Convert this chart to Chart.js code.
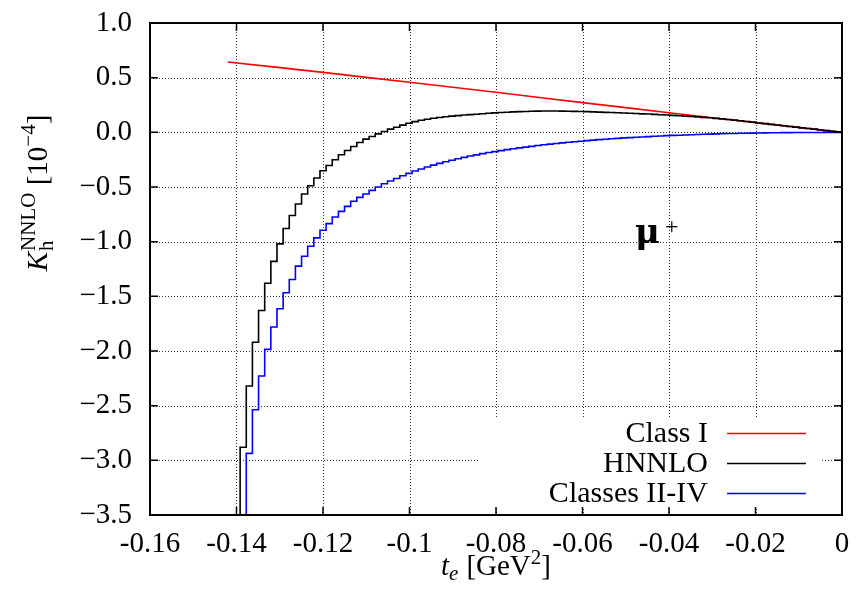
<!DOCTYPE html>
<html>
<head>
<meta charset="utf-8">
<script src="https://cdn.jsdelivr.net/npm/chart.js@4.4.1/dist/chart.umd.min.js"></script>
<style>
  html, body { margin: 0; padding: 0; background: #fff; }
</style>
</head>
<body>
<canvas id="chart" width="856" height="604"></canvas>
<script>
// histogram bins: 100 bins of width 0.00142 starting at t = -0.142
const binStart = -0.142;
const binWidth = 0.00142;

// HNNLO (black), one value per bin
const hnnlo = [
  -5.0, -4.0, -2.88, -2.32, -1.92, -1.63, -1.38, -1.18, -1.02, -0.88,
  -0.76, -0.655, -0.564, -0.488, -0.418, -0.351, -0.303, -0.251, -0.205, -0.166,
  -0.130, -0.093, -0.062, -0.038, -0.014, 0.007, 0.029, 0.047, 0.066, 0.083,
  0.098, 0.110, 0.120, 0.129, 0.136, 0.142, 0.148, 0.153, 0.158, 0.162,
  0.166, 0.170, 0.174, 0.178, 0.181, 0.184, 0.187, 0.189, 0.191, 0.193,
  0.194, 0.195, 0.195, 0.195, 0.194, 0.193, 0.192, 0.191, 0.189, 0.187,
  0.185, 0.183, 0.181, 0.179, 0.177, 0.174, 0.172, 0.169, 0.167, 0.164,
  0.161, 0.158, 0.155, 0.152, 0.148, 0.145, 0.141, 0.137, 0.133, 0.128,
  0.123, 0.118, 0.112, 0.106, 0.099, 0.093, 0.086, 0.080, 0.073, 0.067,
  0.060, 0.054, 0.048, 0.041, 0.035, 0.029, 0.022, 0.016, 0.010, 0.003
];

// Classes II-IV (blue), one value per bin
const classes2to4 = [
  -5.0, -4.5, -4.0, -2.936, -2.538, -2.228, -1.985, -1.781, -1.613, -1.467,
  -1.346, -1.224, -1.133, -1.042, -0.965, -0.896, -0.835, -0.774, -0.723, -0.677,
  -0.631, -0.595, -0.564, -0.531, -0.500, -0.470, -0.445, -0.422, -0.397, -0.375,
  -0.354, -0.335, -0.317, -0.300, -0.284, -0.269, -0.255, -0.242, -0.229, -0.217,
  -0.206, -0.195, -0.185, -0.176, -0.167, -0.158, -0.150, -0.142, -0.135, -0.128,
  -0.121, -0.114, -0.108, -0.102, -0.096, -0.091, -0.086, -0.081, -0.076, -0.071,
  -0.067, -0.063, -0.059, -0.055, -0.051, -0.048, -0.045, -0.042, -0.039, -0.036,
  -0.033, -0.030, -0.028, -0.026, -0.024, -0.022, -0.020, -0.018, -0.016, -0.014,
  -0.012, -0.011, -0.010, -0.009, -0.008, -0.007, -0.006, -0.005, -0.004, -0.004,
  -0.003, -0.003, -0.002, -0.002, -0.001, -0.001, -0.001, 0, 0, 0
];

// Class I (red)
const classIT = [-0.142, -0.13, -0.12, -0.11, -0.10, -0.09, -0.08, -0.07, -0.06, -0.05, -0.04, -0.03, -0.02, -0.01, 0];
const classIK = [0.643, 0.592, 0.548, 0.503, 0.458, 0.412, 0.366, 0.319, 0.272, 0.226, 0.179, 0.134, 0.089, 0.045, 0];

const xTicks = [-0.16, -0.14, -0.12, -0.10, -0.08, -0.06, -0.04, -0.02, 0];
const xTickLabels = ['-0.16', '-0.14', '-0.12', '-0.1', '-0.08', '-0.06', '-0.04', '-0.02', '0'];
const yTicks = [1.0, 0.5, 0.0, -0.5, -1.0, -1.5, -2.0, -2.5, -3.0, -3.5];
const yTickLabels = ['1.0', '0.5', '0.0', '\u22120.5', '\u22121.0', '\u22121.5', '\u22122.0', '\u22122.5', '\u22123.0', '\u22123.5'];

const legendLabels = ['Class I', 'HNNLO', 'Classes II-IV'];
const seriesColors = ['#ff0000', '#000000', '#0000ff'];

const serif = '"Liberation Serif", "Times New Roman", serif';

function histPoints(vals) {
  const pts = vals.map((v, k) => ({ x: binStart + k * binWidth, y: v }));
  pts.push({ x: 0, y: vals[vals.length - 1] });
  return pts;
}

function runWidth(ctx, r) {
  ctx.font = r.f;
  if (r.sub !== undefined) {
    return Math.max(ctx.measureText(r.sub).width, ctx.measureText(r.sup).width);
  }
  return ctx.measureText(r.t).width + (r.gap || 0);
}

function drawRuns(ctx, runs, cx, baseY) {
  const total = runs.reduce((s, r) => s + runWidth(ctx, r), 0);
  let x = cx - total / 2;
  ctx.textAlign = 'left';
  ctx.textBaseline = 'alphabetic';
  runs.forEach(r => {
    const w = runWidth(ctx, r);
    ctx.font = r.f;
    if (r.sub !== undefined) {
      ctx.fillText(r.sub, x, baseY + r.subDy);
      ctx.fillText(r.sup, x, baseY + r.supDy);
    } else {
      ctx.fillText(r.t, x, baseY + (r.dy || 0));
    }
    x += w;
  });
}

const frame = {
  id: 'frame',
  beforeDatasetsDraw(chart) {
    const { ctx, chartArea: ca, scales } = chart;
    ctx.save();
    ctx.strokeStyle = '#333';
    ctx.lineWidth = 1;
    ctx.setLineDash([1, 2]);
    xTicks.slice(1, -1).forEach(v => {
      const px = Math.round(scales.x.getPixelForValue(v)) + 0.5;
      ctx.beginPath(); ctx.moveTo(px, ca.top); ctx.lineTo(px, ca.bottom); ctx.stroke();
    });
    yTicks.slice(1, -1).forEach(v => {
      const py = Math.round(scales.y.getPixelForValue(v)) + 0.5;
      ctx.beginPath(); ctx.moveTo(ca.left, py); ctx.lineTo(ca.right, py); ctx.stroke();
    });
    ctx.restore();
  },
  afterDraw(chart) {
    const { ctx, chartArea: ca, scales } = chart;
    ctx.save();
    // legend box (opaque)
    ctx.fillStyle = '#fff';
    ctx.fillRect(478, 418, 344, 89);

    // tick marks, inward, on all four sides
    ctx.strokeStyle = '#000';
    ctx.lineWidth = 1.5;
    const tl = 8;
    xTicks.forEach(v => {
      const px = scales.x.getPixelForValue(v);
      ctx.beginPath();
      ctx.moveTo(px, ca.bottom); ctx.lineTo(px, ca.bottom - tl);
      ctx.moveTo(px, ca.top); ctx.lineTo(px, ca.top + tl);
      ctx.stroke();
    });
    yTicks.forEach(v => {
      const py = scales.y.getPixelForValue(v);
      ctx.beginPath();
      ctx.moveTo(ca.left, py); ctx.lineTo(ca.left + tl, py);
      ctx.moveTo(ca.right, py); ctx.lineTo(ca.right - tl, py);
      ctx.stroke();
    });
    ctx.lineWidth = 2;
    ctx.strokeRect(ca.left, ca.top, ca.right - ca.left, ca.bottom - ca.top);

    // legend
    ctx.fillStyle = '#000';
    ctx.font = '30px ' + serif;
    ctx.textAlign = 'right';
    ctx.textBaseline = 'alphabetic';
    legendLabels.forEach((lab, i) => {
      const ly = 433.5 + i * 30;
      ctx.fillText(lab, 708, ly + 8.5);
      ctx.strokeStyle = seriesColors[i];
      ctx.lineWidth = 1.5;
      ctx.beginPath(); ctx.moveTo(727, ly); ctx.lineTo(806, ly); ctx.stroke();
    });

    // mu+ label
    ctx.textAlign = 'left';
    ctx.font = 'bold 34px "DejaVu Serif", serif';
    ctx.fillText('\u03bc', 635, 243);
    ctx.font = '24px ' + serif;
    ctx.fillText('+', 665, 234);

    // x title: t_e [GeV^2]
    ctx.fillStyle = '#000';
    drawRuns(ctx, [
      { t: 't', f: 'italic 29px ' + serif },
      { t: 'e', f: 'italic 21px ' + serif, dy: 5, gap: 8 },
      { t: '[GeV', f: '29px ' + serif },
      { t: '2', f: '21px ' + serif, dy: -11 },
      { t: ']', f: '29px ' + serif }
    ], (ca.left + ca.right) / 2, 575);

    // y title: K_h^NNLO [10^-4], rotated
    ctx.translate(47, 193);
    ctx.rotate(-Math.PI / 2);
    drawRuns(ctx, [
      { t: 'K', f: 'italic 29px ' + serif, gap: 1 },
      { sub: 'h', sup: 'NNLO', f: '21px ' + serif, subDy: 6, supDy: -12 },
      { t: ' [10', f: '29px ' + serif },
      { t: '\u22124', f: '21px ' + serif, dy: -12 },
      { t: ']', f: '29px ' + serif }
    ], 0, 0);
    ctx.restore();
  }
};

new Chart(document.getElementById('chart'), {
  type: 'line',
  data: {
    datasets: [
      {
        label: legendLabels[1],
        data: histPoints(hnnlo),
        borderColor: seriesColors[1],
        borderWidth: 1.6,
        stepped: 'before',
        pointRadius: 0
      },
      {
        label: legendLabels[2],
        data: histPoints(classes2to4),
        borderColor: seriesColors[2],
        borderWidth: 1.6,
        stepped: 'before',
        pointRadius: 0
      },
      {
        label: legendLabels[0],
        data: classIT.map((t, i) => ({ x: t, y: classIK[i] })),
        borderColor: seriesColors[0],
        borderWidth: 1.6,
        pointRadius: 0
      }
    ]
  },
  options: {
    responsive: false,
    animation: false,
    layout: { padding: { top: 23, right: 14, left: 0, bottom: 0 } },
    plugins: { legend: { display: false }, tooltip: { enabled: false } },
    scales: {
      x: {
        type: 'linear',
        min: -0.16,
        max: 0,
        afterBuildTicks: s => { s.ticks = xTicks.map(v => ({ value: v })); },
        afterFit: s => { s.height = 89; s.paddingLeft = 0; s.paddingRight = 0; },
        grid: { display: false, drawTicks: false },
        border: { display: false },
        ticks: {
          padding: 12,
          color: '#000',
          maxRotation: 0,
          autoSkip: false,
          font: { family: serif, size: 29 },
          callback: (v, i) => xTickLabels[i]
        }
      },
      y: {
        type: 'linear',
        min: -3.5,
        max: 1.0,
        afterBuildTicks: s => { s.ticks = yTicks.map(v => ({ value: v })); },
        afterFit: s => { s.width = 150; s.paddingTop = 0; s.paddingBottom = 0; },
        grid: { display: false, drawTicks: false },
        border: { display: false },
        ticks: {
          padding: 18,
          color: '#000',
          autoSkip: false,
          font: { family: serif, size: 29 },
          callback: (v, i) => yTickLabels[i]
        }
      }
    }
  },
  plugins: [frame]
});
</script>
</body>
</html>
